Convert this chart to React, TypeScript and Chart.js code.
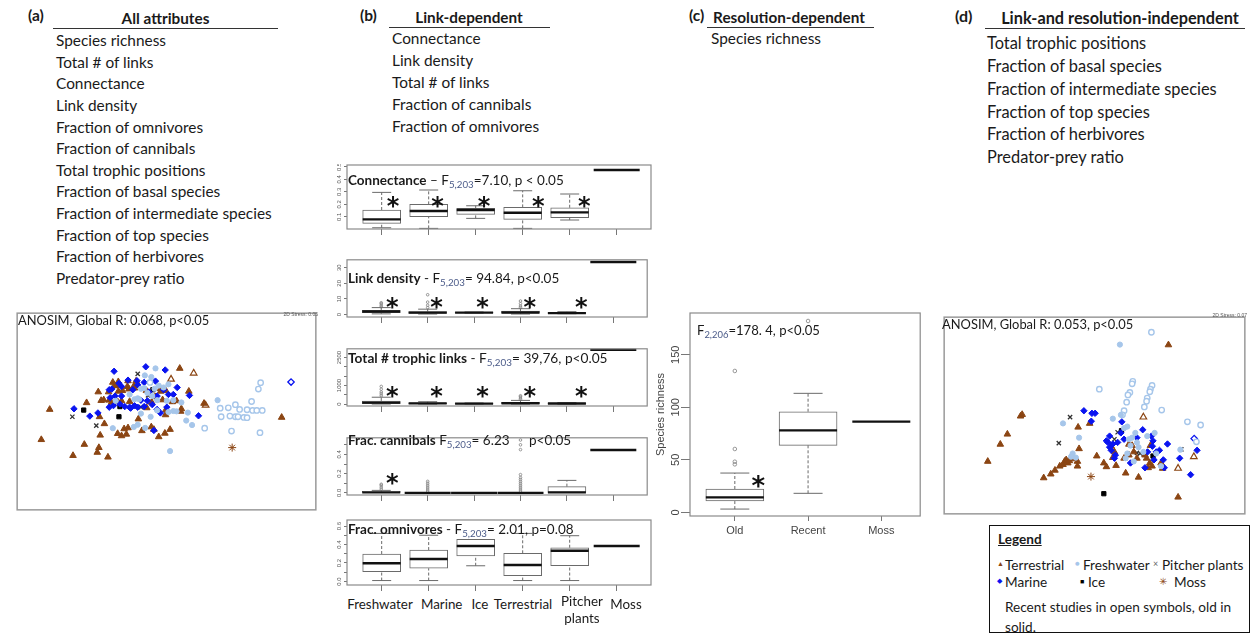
import React, { useEffect, useRef } from 'react';
import { Chart, registerables } from 'chart.js';

Chart.register(...registerables);

const FONT = 'Lato, "Open Sans", sans-serif';
const BROWN = '#8B4513';
const LIGHTBLUE = '#A6C6EA';
const BLUE = '#0A14F0';

// ---------------- Text lists ----------------
const allAttributes = ['Species richness', 'Total # of links', 'Connectance', 'Link density', 'Fraction of omnivores', 'Fraction of cannibals', 'Total trophic positions', 'Fraction of basal species', 'Fraction of intermediate species', 'Fraction of top species', 'Fraction of herbivores', 'Predator-prey ratio'];
const linkDependent = ['Connectance', 'Link density', 'Total # of links', 'Fraction of cannibals', 'Fraction of omnivores'];
const resolutionDependent = ['Species richness'];
const independentAttrs = ['Total trophic positions', 'Fraction of basal species', 'Fraction of intermediate species', 'Fraction of top species', 'Fraction of herbivores', 'Predator-prey ratio'];

// ---------------- Box plot data (b) ----------------
const habitats = ['Freshwater', 'Marine', 'Ice', 'Terrestrial', 'Pitcher plants', 'Moss'];
// [min, q1, median, q3, max]
const connectanceStats = [
  [0.012, 0.047, 0.079, 0.154, 0.295],
  [0.007, 0.100, 0.146, 0.199, 0.314],
  [0.087, 0.119, 0.154, 0.167, 0.188],
  [0.007, 0.079, 0.132, 0.175, 0.308],
  [0.074, 0.092, 0.135, 0.172, 0.282],
  [0.474, 0.474, 0.474, 0.474, 0.474],
];
const connectanceOutliers: number[][] = [];
const connectanceTicks = [0.1, 0.2, 0.3, 0.4, 0.5];
const connectanceStars = [[0.24, 0.21], [1.19, 0.21], [2.18, 0.21], [3.33, 0.21], [4.31, 0.21]];

const linkDensityStats = [
  [0.5, 1.2, 2.0, 2.8, 4.5],
  [0.4, 0.8, 1.3, 2.0, 3.5],
  [1.0, 1.1, 1.3, 1.5, 1.7],
  [0.4, 0.9, 1.4, 2.2, 3.8],
  [0.6, 0.8, 1.0, 1.3, 1.9],
  [33.6, 33.6, 33.6, 33.6, 33.6],
];
const linkDensityOutliers = [[0, 5], [0, 6], [0, 7], [0, 7.6], [1, 4.5], [1, 6], [1, 8], [1, 12.7], [3, 4.5], [3, 5.5], [3, 7], [3, 8.7]];
const linkDensityTicks = [0, 10, 20, 30];
const linkDensityStars = [[0.24, 6.7], [1.19, 6.7], [2.18, 6.7], [3.2, 6.7], [4.31, 6.7]];

const totalLinksStats = [
  [5, 30, 80, 170, 370],
  [5, 20, 40, 70, 130],
  [10, 15, 25, 40, 60],
  [5, 20, 50, 100, 200],
  [5, 15, 30, 50, 80],
  [2910, 2910, 2910, 2910, 2910],
];
const totalLinksOutliers = [[0, 450], [0, 550], [0, 650], [0, 800], [0, 950], [3, 250], [3, 320], [3, 400], [3, 450]];
const totalLinksTicks = [0, 500, 1000, 1500, 2000, 2500];
const totalLinksLabels = [0, 1000, 2500];
const totalLinksStars = [[0.24, 620], [1.19, 620], [2.18, 620], [3.2, 620], [4.31, 620]];

const cannibalStats = [
  [0, 0, 0.005, 0.015, 0.026],
  [0, 0, 0, 0, 0],
  [0, 0, 0, 0, 0],
  [0, 0, 0, 0, 0],
  [0, 0, 0.005, 0.065, 0.13],
  [0.446, 0.446, 0.446, 0.446, 0.446],
];
const cannibalOutliers = [[0, 0.04], [0, 0.06], [0, 0.08], [0, 0.09], [1, 0.02], [1, 0.04], [1, 0.06], [1, 0.08], [1, 0.1], [1, 0.12], [3, 0.02], [3, 0.04], [3, 0.06], [3, 0.08], [3, 0.1], [3, 0.12], [3, 0.14], [3, 0.16], [3, 0.19], [3, 0.45], [3, 0.5], [3, 0.55]];
const cannibalTicks = [0, 0.1, 0.2, 0.3, 0.4, 0.5];
const cannibalLabels = [0, 0.2, 0.4];
const cannibalStars = [[0.24, 0.14]];

const omnivoreStats = [
  [0.01, 0.106, 0.197, 0.297, 0.52],
  [0.01, 0.143, 0.243, 0.34, 0.5],
  [0.17, 0.276, 0.384, 0.456, 0.456],
  [0.01, 0.063, 0.178, 0.305, 0.52],
  [0.01, 0.17, 0.333, 0.365, 0.495],
  [0.384, 0.384, 0.384, 0.384, 0.384],
];
const omnivoreOutliers: number[][] = [];
const omnivoreTicks = [0, 0.1, 0.2, 0.3, 0.4, 0.5, 0.6];
const omnivoreLabels = [0, 0.2, 0.4, 0.6];
const omnivoreStars: number[][] = [];

// ---------------- Box plot data (c) ----------------
const studyAges = ['Old', 'Recent', 'Moss'];
const richnessStats = [
  [3.1, 10.8, 14.3, 22.2, 37.4],
  [18.1, 63.8, 78.1, 95.8, 113.3],
  [86.3, 86.3, 86.3, 86.3, 86.3],
];
const richnessOutliers = [[0, 45.7], [0, 48.2], [0, 60.3], [0, 134.6], [1, 182.2]];
const richnessTicks = [0, 50, 100, 150];
const richnessStars = [[0.32, 29]];

// ---------------- NMDS ordinations (scores x100) ----------------
const aTerrestrial = [[138,327],[112,422],[210,472],[245,437],[285,462],[290,447],[318,477],[252,306],[292,350],[307,372],[294,408],[288,272],[297,299],[305,297],[329,305],[322,298],[333,242],[350,240],[344,253],[380,237],[383,263],[378,255],[400,260],[350,270],[363,268],[348,303],[360,300],[385,302],[412,357],[380,385],[368,388],[348,403],[360,410],[375,405],[423,394],[452,382],[460,390],[475,413],[494,402],[510,390],[438,322],[453,304],[437,268],[464,287],[481,270],[497,268],[487,297],[517,303],[497,328],[496,344],[545,325],[543,333],[530,300],[540,198],[568,270],[855,352],[480,262],[320,272],[399,252],[405,238],[338,252],[615,308]];
const aTerrestrialRecent = [[583,213],[513,232],[620,314]];
const aFreshwater = [[465,198],[432,220],[452,225],[475,252],[490,258],[462,262],[505,248],[420,262],[440,275],[455,285],[470,298],[500,300],[520,298],[545,305],[520,332],[505,335],[530,333],[565,337],[560,362],[578,376],[510,458],[333,386],[398,382],[410,375],[433,385],[385,280],[400,295],[415,295],[657,298],[342,300],[450,350],[470,330],[420,340],[410,292],[430,260]];
const aFreshwaterRecent = [[790,243],[783,263],[762,302],[712,312],[690,322],[665,323],[725,327],[748,328],[765,330],[778,330],[795,330],[668,350],[695,348],[712,350],[720,350],[738,352],[748,353],[617,386],[700,395],[788,400],[448,242]];
const aMarine = [[337,207],[435,193],[495,203],[408,237],[430,242],[465,238],[380,235],[330,263],[322,265],[360,255],[395,265],[352,245],[532,258],[570,283],[505,280],[520,280],[490,265],[445,272],[470,285],[360,285],[340,285],[325,290],[335,315],[322,320],[370,318],[385,320],[400,315],[410,320],[388,323],[355,310],[420,298],[440,300],[470,327],[480,338],[500,320],[430,318],[213,325],[262,348],[287,338],[598,347],[460,393],[455,312],[410,250]];
const aMarineRecent = [[884,241]];
const aPitcher = [[208,350],[282,378],[410,215],[442,283],[460,290],[420,320],[400,318]];
const aIce = [[243,329],[355,318],[352,350],[457,265]];
const aMoss = [[702,447]];

const dTerrestrial = [[176,490],[215,436],[237,404],[278,347],[283,342],[350,542],[372,530],[385,518],[400,505],[415,490],[420,485],[425,495],[437,482],[455,490],[455,505],[460,450],[457,382],[493,370],[515,473],[537,495],[545,507],[575,503],[605,527],[645,540],[738,122],[768,603],[560,442],[570,460],[565,478],[615,436],[630,460],[615,470],[625,440],[640,480],[670,480],[675,510],[680,495],[687,505],[682,440],[665,470],[600,480],[720,512],[715,495],[410,500],[430,488]];
const dTerrestrialRecent = [[660,350],[817,475],[768,512]];
const dFreshwater = [[587,121],[410,370],[460,415],[440,465],[435,475],[565,355],[615,420],[625,415],[635,400],[640,430],[605,480],[610,465],[645,445],[695,400],[700,465],[715,505],[775,453],[600,385],[610,380],[660,460],[672,410],[590,343],[450,478],[620,440],[630,490]];
const dFreshwaterRecent = [[685,82],[523,262],[627,237],[625,245],[618,272],[612,280],[608,303],[600,330],[595,343],[687,250],[682,262],[680,270],[672,290],[670,300],[663,318],[717,328],[797,365],[838,375],[825,428]];
const dMarine = [[475,330],[500,338],[510,338],[498,363],[593,365],[555,410],[545,425],[550,430],[555,445],[565,435],[573,470],[658,390],[685,410],[690,425],[688,442],[673,460],[665,510],[693,485],[722,485],[725,510],[735,435],[773,480],[807,532],[827,455],[620,495],[570,480],[590,400],[600,420],[640,415],[700,460],[710,455],[560,455],[580,430]];
const dMarineRecent = [[818,418]];
const dPitcher = [[432,350],[397,432],[640,463],[778,452],[570,420],[650,465],[580,398]];
const dIce = [[537,592],[690,473],[592,393]];
const dMoss = [[497,538]];

// ---------------- Plugin ----------------
function seg(ctx: CanvasRenderingContext2D, x1: number, y1: number, x2: number, y2: number) {
  ctx.beginPath();
  ctx.moveTo(x1, y1);
  ctx.lineTo(x2, y2);
  ctx.stroke();
}

function makeDecor(spec: any) {
  return {
    id: 'decor',
    afterDatasetsDraw(chart: any) {
      const { ctx } = chart;
      const xs = chart.scales.x;
      const ys = chart.scales.y;
      if (spec.stats) {
        ctx.save();
        const hw = spec.boxWidth / 2;
        spec.stats.forEach((s: number[], i: number) => {
          const cx = xs.getPixelForValue(i);
          const [mn, q1, md, q3, mx] = s;
          const single = mn === mx;
          ctx.strokeStyle = '#6a6a6a';
          ctx.lineWidth = 1;
          if (!single) {
            ctx.setLineDash([3, 2]);
            if (mx > q3) seg(ctx, cx, ys.getPixelForValue(q3), cx, ys.getPixelForValue(mx));
            if (mn < q1) seg(ctx, cx, ys.getPixelForValue(mn), cx, ys.getPixelForValue(q1));
            ctx.setLineDash([]);
            if (mx > q3) seg(ctx, cx - hw / 2, ys.getPixelForValue(mx), cx + hw / 2, ys.getPixelForValue(mx));
            if (mn < q1) seg(ctx, cx - hw / 2, ys.getPixelForValue(mn), cx + hw / 2, ys.getPixelForValue(mn));
          }
          ctx.strokeStyle = '#111';
          ctx.lineWidth = spec.medianWidth;
          const w = single ? spec.singleHalf : hw;
          seg(ctx, cx - w, ys.getPixelForValue(md), cx + w, ys.getPixelForValue(md));
        });
        ctx.restore();
      }
      if (spec.stars) {
        ctx.save();
        ctx.fillStyle = '#111';
        ctx.font = spec.starFont;
        ctx.textAlign = 'center';
        ctx.textBaseline = 'middle';
        spec.stars.forEach((p: number[]) => {
          ctx.fillText('*', xs.getPixelForValue(p[0]), ys.getPixelForValue(p[1]) + spec.starShift);
        });
        ctx.restore();
      }
    },
    afterDraw(chart: any) {
      const { ctx, chartArea: ca } = chart;
      const ys = chart.scales.y;
      if (spec.yLabels) {
        ctx.save();
        ctx.fillStyle = spec.yLabelColor;
        ctx.font = spec.yLabelFont;
        ctx.textAlign = 'center';
        ctx.textBaseline = 'middle';
        spec.yLabels.forEach((v: number) => {
          ctx.save();
          ctx.translate(ca.left - spec.yLabelOffset, ys.getPixelForValue(v));
          ctx.rotate(-Math.PI / 2);
          ctx.fillText(v.toFixed(spec.yDecimals), 0, 0);
          ctx.restore();
        });
        ctx.restore();
      }
      if (spec.frame) {
        ctx.save();
        ctx.strokeStyle = spec.frame;
        ctx.lineWidth = spec.frameWidth;
        const o = spec.frameInset || 0;
        ctx.strokeRect(ca.left + o, ca.top + o, ca.width - 2 * o, ca.height - 2 * o);
        ctx.restore();
      }
    },
  };
}

// ---------------- Chart configs ----------------
function boxConfig(p: any) {
  const datasets: any[] = [
    {
      type: 'bar',
      data: p.stats.map((s: number[], i: number) => ({ x: i, y: s[3] > s[1] ? [s[1], s[3]] : null })),
      backgroundColor: '#ffffff',
      borderColor: '#6a6a6a',
      borderWidth: 1,
      borderSkipped: false,
      barThickness: p.boxWidth,
      order: 2,
    },
    {
      type: 'scatter',
      data: p.outliers.map((o: number[]) => ({ x: o[0], y: o[1] })),
      pointStyle: 'circle',
      pointRadius: p.outRadius,
      backgroundColor: 'rgba(0,0,0,0)',
      borderColor: '#808080',
      borderWidth: 0.8,
      order: 1,
    },
  ];
  return {
    type: 'bar',
    data: { datasets },
    plugins: [makeDecor(p)],
    options: {
      animation: false,
      responsive: false,
      devicePixelRatio: 1,
      events: [],
      layout: { padding: p.padding },
      plugins: { legend: { display: false }, tooltip: { enabled: false } },
      scales: {
        x: {
          type: 'linear',
          min: p.xMin,
          max: p.xMax,
          offset: false,
          afterBuildTicks: (s: any) => { s.ticks = p.categories.map((_: string, i: number) => ({ value: i })); },
          afterFit: (s: any) => { s.height = p.xHeight; },
          grid: { display: true, offset: false, drawOnChartArea: false, drawTicks: true, tickLength: p.xTickLen, color: '#777', lineWidth: 1 },
          border: { display: false },
          ticks: {
            display: !!p.xLabels,
            autoSkip: false,
            maxRotation: 0,
            minRotation: 0,
            padding: 3,
            color: '#444',
            font: { family: 'Arial, "Liberation Sans", sans-serif', size: 11 },
            callback: (v: number) => (p.xLabels ? p.categories[v] : ''),
          },
        },
        y: {
          type: 'linear',
          min: p.yMin,
          max: p.yMax,
          afterBuildTicks: (s: any) => { s.ticks = p.ticks.map((v: number) => ({ value: v })); },
          afterFit: (s: any) => { s.width = p.yWidth; },
          grid: { display: true, drawOnChartArea: false, drawTicks: true, tickLength: p.yTickLen, color: '#777', lineWidth: 1 },
          border: { display: false },
          ticks: { display: false },
          title: p.yTitle
            ? { display: true, text: p.yTitle, color: '#444', font: { family: 'Arial, "Liberation Sans", sans-serif', size: 11 }, padding: { top: 14, bottom: 0 } }
            : { display: false },
        },
      },
    },
  };
}

function scatterConfig(g: any) {
  const pt = (a: number[][]) => a.map((q) => ({ x: q[0], y: q[1] }));
  const datasets = [
    { data: pt(g.fresh), pointStyle: 'circle', pointRadius: 2.6, backgroundColor: LIGHTBLUE, borderColor: LIGHTBLUE, borderWidth: 1 },
    { data: pt(g.freshR), pointStyle: 'circle', pointRadius: 2.7, backgroundColor: '#fff', borderColor: LIGHTBLUE, borderWidth: 1.4 },
    { data: pt(g.marine), pointStyle: 'rectRot', pointRadius: 3.2, backgroundColor: BLUE, borderColor: BLUE, borderWidth: 1 },
    { data: pt(g.marineR), pointStyle: 'rectRot', pointRadius: 3.2, backgroundColor: '#fff', borderColor: BLUE, borderWidth: 1.3 },
    { data: pt(g.terr), pointStyle: 'triangle', pointRadius: 3.8, backgroundColor: BROWN, borderColor: BROWN, borderWidth: 1 },
    { data: pt(g.terrR), pointStyle: 'triangle', pointRadius: 3.8, backgroundColor: '#fff', borderColor: BROWN, borderWidth: 1.2 },
    { data: pt(g.pitcher), pointStyle: 'crossRot', pointRadius: 3, backgroundColor: '#333', borderColor: '#333', borderWidth: 1.3 },
    { data: pt(g.ice), pointStyle: 'rect', pointRadius: 3, backgroundColor: '#000', borderColor: '#000', borderWidth: 1 },
    { data: pt(g.moss), pointStyle: 'star', pointRadius: 4, backgroundColor: BROWN, borderColor: BROWN, borderWidth: 1 },
  ];
  return {
    type: 'scatter',
    data: { datasets },
    plugins: [makeDecor({ frame: '#9a9a9a', frameWidth: 1.5, frameInset: 0.75 })],
    options: {
      animation: false,
      responsive: false,
      devicePixelRatio: 1,
      events: [],
      layout: { padding: 0 },
      plugins: { legend: { display: false }, tooltip: { enabled: false } },
      scales: {
        x: { type: 'linear', display: false, min: g.xMin, max: g.xMax },
        y: { type: 'linear', display: false, min: g.yMin, max: g.yMax, reverse: true },
      },
    },
  };
}

function ChartCanvas({ left, top, width, height, make }: any) {
  const ref = useRef<HTMLCanvasElement>(null);
  useEffect(() => {
    const c = new Chart(ref.current as HTMLCanvasElement, make());
    return () => c.destroy();
  }, []);
  return <canvas ref={ref} width={width} height={height} style={{ position: 'absolute', left, top, width, height }} />;
}

// ---------------- Text helpers ----------------
function Txt({ x, y, size = 14, bold = false, color = '#1a1a1a', align = 'left', family = FONT, children, style }: any) {
  const tr = align === 'center' ? 'translateX(-50%)' : align === 'right' ? 'translateX(-100%)' : undefined;
  return (
    <div style={{ position: 'absolute', left: x, top: y - size * 0.62, fontSize: size, lineHeight: `${Math.round(size * 1.24)}px`, fontWeight: bold ? 700 : 400, fontFamily: family, color, whiteSpace: 'nowrap', transform: tr, ...style }}>
      {children}
    </div>
  );
}
function Rule({ x1, x2, y }: any) {
  return <div style={{ position: 'absolute', left: x1, top: y, width: x2 - x1, height: 0, borderTop: '1.4px solid #333' }} />;
}
const Sub = ({ children }: any) => (
  <sub style={{ fontSize: '0.72em', color: '#4a5a88', verticalAlign: '-0.3em', lineHeight: 0 }}>{children}</sub>
);

const bFrames = [
  { top: 165, bottom: 229 },
  { top: 256, bottom: 317 },
  { top: 345, bottom: 406 },
  { top: 434, bottom: 495 },
  { top: 520, bottom: 585 },
];

export default function App() {
  const bSpecs = [
    { stats: connectanceStats, outliers: connectanceOutliers, yMin: 0.002, yMax: 0.514, ticks: connectanceTicks, yLabels: connectanceTicks, yDecimals: 1, stars: connectanceStars },
    { stats: linkDensityStats, outliers: linkDensityOutliers, yMin: -1.5, yMax: 35, ticks: linkDensityTicks, yLabels: linkDensityTicks, yDecimals: 0, stars: linkDensityStars },
    { stats: totalLinksStats, outliers: totalLinksOutliers, yMin: -100, yMax: 2965, ticks: totalLinksTicks, yLabels: totalLinksLabels, yDecimals: 0, stars: totalLinksStars },
    { stats: cannibalStats, outliers: cannibalOutliers, yMin: -0.022, yMax: 0.573, ticks: cannibalTicks, yLabels: cannibalLabels, yDecimals: 1, stars: cannibalStars },
    { stats: omnivoreStats, outliers: omnivoreOutliers, yMin: -0.038, yMax: 0.665, ticks: omnivoreTicks, yLabels: omnivoreLabels, yDecimals: 1, stars: omnivoreStars },
  ];
  const bLeft = 333;
  const bWidth = 319;
  const bYWidth = 14;
  const xMinB = -0.738;
  const xMaxB = xMinB + (bWidth - 1 - bYWidth) / 47;

  const catLabelPos = [380, 441.7, 480, 523, 582, 626];
  const LEG = 13.6;

  return (
    <div style={{ position: 'absolute', left: 0, top: 0, width: 1254, height: 636, background: '#fff', overflow: 'hidden', fontFamily: FONT }}>
      {/* ---- (b) box plots ---- */}
      {bSpecs.map((s, i) => {
        const f = bFrames[i];
        const h = f.bottom - f.top + 1 + 9;
        return (
          <ChartCanvas
            key={i}
            left={bLeft}
            top={f.top - 1}
            width={bWidth}
            height={h}
            make={() =>
              boxConfig({
                ...s,
                categories: habitats,
                boxWidth: 38,
                singleHalf: 23,
                medianWidth: 2.4,
                outRadius: 1.3,
                starFont: 'bold 24px "DejaVu Sans", sans-serif',
                starShift: 5,
                yLabelColor: '#555',
                yLabelFont: '6px Arial, sans-serif',
                yLabelOffset: 8,
                frame: '#8a8a8a',
                frameWidth: 1.2,
                padding: { top: 1, right: 1, left: 0, bottom: 0 },
                xMin: xMinB,
                xMax: xMaxB,
                xHeight: 9,
                xTickLen: 6,
                yWidth: bYWidth,
                yTickLen: 3,
                xLabels: false,
              })
            }
          />
        );
      })}

      {/* ---- (c) box plot ---- */}
      <ChartCanvas
        left={640}
        top={300}
        width={285}
        height={245}
        make={() =>
          boxConfig({
            stats: richnessStats,
            outliers: richnessOutliers,
            yMin: -3.5,
            yMax: 189.8,
            ticks: richnessTicks,
            yLabels: richnessTicks,
            yDecimals: 0,
            stars: richnessStars,
            categories: studyAges,
            boxWidth: 58,
            singleHalf: 29,
            medianWidth: 2.2,
            outRadius: 1.8,
            starFont: 'bold 26px "DejaVu Sans", sans-serif',
            starShift: 6,
            yLabelColor: '#444',
            yLabelFont: '11px Arial, "Liberation Sans", sans-serif',
            yLabelOffset: 14,
            frame: '#8a8a8a',
            frameWidth: 1.2,
            padding: { top: 13, right: 4, left: 0, bottom: 0 },
            xMin: -0.612,
            xMax: -0.612 + 231 / 73.5,
            xHeight: 29,
            xTickLen: 5,
            yWidth: 50,
            yTickLen: 9,
            xLabels: true,
            yTitle: 'Species richness',
          })
        }
      />

      {/* ---- (a) and (d) ordinations ---- */}
      <ChartCanvas
        left={11}
        top={307}
        width={311}
        height={209}
        make={() =>
          scatterConfig({
            fresh: aFreshwater, freshR: aFreshwaterRecent, marine: aMarine, marineR: aMarineRecent,
            terr: aTerrestrial, terrR: aTerrestrialRecent, pitcher: aPitcher, ice: aIce, moss: aMoss,
            xMin: 35, xMax: 963, yMin: 22, yMax: 645,
          })
        }
      />
      <ChartCanvas
        left={938}
        top={311}
        width={313}
        height={209}
        make={() =>
          scatterConfig({
            fresh: dFreshwater, freshR: dFreshwaterRecent, marine: dMarine, marineR: dMarineRecent,
            terr: dTerrestrial, terrR: dTerrestrialRecent, pitcher: dPitcher, ice: dIce, moss: dMoss,
            xMin: 38, xMax: 978, yMin: 32, yMax: 658,
          })
        }
      />

      {/* ---- (a) header ---- */}
      <Txt x={28} y={16} size={15.5} bold>(a)</Txt>
      <Txt x={165.5} y={18.5} size={15.3} bold align="center">All attributes</Txt>
      <Rule x1={53} x2={278} y={28} />
      {allAttributes.map((t, i) => (
        <Txt key={t} x={56} y={40.7 + i * 21.6} size={15.4}>{t}</Txt>
      ))}

      {/* ---- (b) header ---- */}
      <Txt x={360} y={16} size={15.5} bold>(b)</Txt>
      <Txt x={469} y={17.5} size={15.3} bold align="center">Link-dependent</Txt>
      <Rule x1={389} x2={550} y={27} />
      {linkDependent.map((t, i) => (
        <Txt key={t} x={392} y={38.7 + i * 21.9} size={15.4}>{t}</Txt>
      ))}

      {/* ---- (c) header ---- */}
      <Txt x={689} y={16} size={15.5} bold>(c)</Txt>
      <Txt x={789} y={17.5} size={15.3} bold align="center">Resolution-dependent</Txt>
      <Rule x1={707} x2={874} y={27} />
      {resolutionDependent.map((t) => (
        <Txt key={t} x={711} y={38.7} size={15.4}>{t}</Txt>
      ))}

      {/* ---- (d) header ---- */}
      <Txt x={955} y={16} size={16} bold>(d)</Txt>
      <Txt x={1120} y={18} size={16.3} bold align="center">Link-and resolution-independent</Txt>
      <Rule x1={985} x2={1245} y={28} />
      {independentAttrs.map((t, i) => (
        <Txt key={t} x={987} y={43 + i * 22.9} size={16.4}>{t}</Txt>
      ))}

      {/* ---- (b) panel annotations ---- */}
      <Txt x={348} y={180} size={13.5}><b>Connectance</b> – F<Sub>5,203</Sub>=7.10, p &lt; 0.05</Txt>
      <Txt x={348} y={278} size={13.5}><b>Link density</b> - F<Sub>5,203</Sub>= 94.84, p&lt;0.05</Txt>
      <Txt x={348} y={357} size={13.7}><b>Total # trophic links</b> - F<Sub>5,203</Sub>= 39,76, p&lt;0.05</Txt>
      <Txt x={348} y={440} size={13.5}><b>Frac. cannibals</b> F<Sub>5,203</Sub>= 6.23</Txt>
      <Txt x={529} y={440} size={13.5}>p&lt;0.05</Txt>
      <Txt x={348} y={529} size={13.5}><b>Frac. omnivores</b> - F<Sub>5,203</Sub>= 2.01, p=0.08</Txt>
      {habitats.map((h, i) => {
        const parts = h.split(' ');
        return parts.length > 1 ? (
          <div key={h}>
            <Txt x={catLabelPos[i]} y={601} size={13.4} align="center">{parts[0]}</Txt>
            <Txt x={catLabelPos[i]} y={618} size={13.4} align="center">{parts[1]}</Txt>
          </div>
        ) : (
          <Txt key={h} x={catLabelPos[i]} y={604} size={13.4} align="center">{h}</Txt>
        );
      })}

      {/* ---- (c) annotation ---- */}
      <Txt x={697} y={330} size={13.1}>F<Sub>2,206</Sub>=178. 4, p&lt;0.05</Txt>

      {/* ---- ordination annotations ---- */}
      <Txt x={18} y={320} size={12.9}>ANOSIM, Global R: 0.068, p&lt;0.05</Txt>
      <Txt x={318} y={314} size={5} color="#555" align="right" family="Arial, sans-serif">2D Stress: 0.05</Txt>
      <Txt x={942} y={324} size={12.9}>ANOSIM, Global R: 0.053, p&lt;0.05</Txt>
      <Txt x={1247} y={315} size={5} color="#555" align="right" family="Arial, sans-serif">2D Stress: 0.07</Txt>

      {/* ---- legend ---- */}
      <div style={{ position: 'absolute', left: 989, top: 525, width: 259, height: 106, border: '1.6px solid #111' }} />
      <Txt x={998} y={539} size={LEG} bold style={{ textDecoration: 'underline' }}>Legend</Txt>
      <Txt x={997} y={563} size={7} color={BROWN}>▲</Txt>
      <Txt x={1005} y={565} size={LEG}>Terrestrial</Txt>
      <Txt x={1075} y={563} size={8} color={LIGHTBLUE}>●</Txt>
      <Txt x={1083} y={565} size={LEG}>Freshwater</Txt>
      <Txt x={1153} y={564} size={9} color="#666">×</Txt>
      <Txt x={1162} y={565} size={LEG}>Pitcher plants</Txt>
      <Txt x={997} y={580} size={7} color={BLUE}>◆</Txt>
      <Txt x={1005} y={582} size={LEG}>Marine</Txt>
      <Txt x={1080} y={581} size={7} color="#000">■</Txt>
      <Txt x={1088} y={582} size={LEG}>Ice</Txt>
      <Txt x={1159} y={581} size={10} color={BROWN}>✳</Txt>
      <Txt x={1174} y={582} size={LEG}>Moss</Txt>
      <Txt x={1005} y={607} size={LEG}>Recent studies in open symbols, old in</Txt>
      <Txt x={1005} y={627} size={LEG}>solid.</Txt>
    </div>
  );
}
